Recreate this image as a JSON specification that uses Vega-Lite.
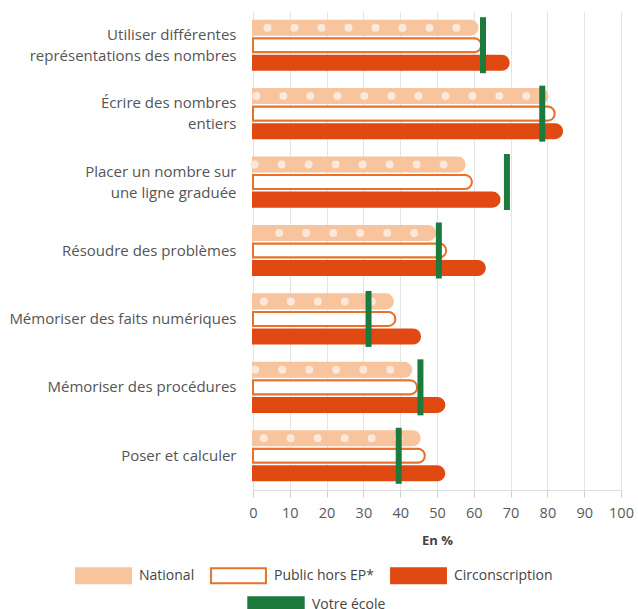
{
  "$schema": "https://vega.github.io/schema/vega-lite/v6.json",
  "width": 368,
  "height": 479,
  "padding": {"left": 8, "top": 11, "right": 12, "bottom": 0},
  "background": "white",
  "datasets": {
    "bars": [
      {"cat": "Utiliser différentes\nreprésentations des nombres", "serie": "National", "v": 61},
      {"cat": "Utiliser différentes\nreprésentations des nombres", "serie": "Public hors EP*", "v": 62},
      {"cat": "Utiliser différentes\nreprésentations des nombres", "serie": "Circonscription", "v": 69.5},
      {"cat": "Écrire des nombres\nentiers", "serie": "National", "v": 80},
      {"cat": "Écrire des nombres\nentiers", "serie": "Public hors EP*", "v": 82},
      {"cat": "Écrire des nombres\nentiers", "serie": "Circonscription", "v": 84},
      {"cat": "Placer un nombre sur\nune ligne graduée", "serie": "National", "v": 57.5},
      {"cat": "Placer un nombre sur\nune ligne graduée", "serie": "Public hors EP*", "v": 59.5},
      {"cat": "Placer un nombre sur\nune ligne graduée", "serie": "Circonscription", "v": 67},
      {"cat": "Résoudre des problèmes", "serie": "National", "v": 49.5},
      {"cat": "Résoudre des problèmes", "serie": "Public hors EP*", "v": 52.5},
      {"cat": "Résoudre des problèmes", "serie": "Circonscription", "v": 63},
      {"cat": "Mémoriser des faits numériques", "serie": "National", "v": 38},
      {"cat": "Mémoriser des faits numériques", "serie": "Public hors EP*", "v": 38.7},
      {"cat": "Mémoriser des faits numériques", "serie": "Circonscription", "v": 45.4},
      {"cat": "Mémoriser des procédures", "serie": "National", "v": 43},
      {"cat": "Mémoriser des procédures", "serie": "Public hors EP*", "v": 44.6},
      {"cat": "Mémoriser des procédures", "serie": "Circonscription", "v": 52},
      {"cat": "Poser et calculer", "serie": "National", "v": 45.3},
      {"cat": "Poser et calculer", "serie": "Public hors EP*", "v": 46.7},
      {"cat": "Poser et calculer", "serie": "Circonscription", "v": 52}
    ],
    "ecole": [
      {"cat": "Utiliser différentes\nreprésentations des nombres", "serie": "Votre école", "v": 62.5},
      {"cat": "Écrire des nombres\nentiers", "serie": "Votre école", "v": 78.6},
      {"cat": "Placer un nombre sur\nune ligne graduée", "serie": "Votre école", "v": 69},
      {"cat": "Résoudre des problèmes", "serie": "Votre école", "v": 50.5},
      {"cat": "Mémoriser des faits numériques", "serie": "Votre école", "v": 31.4},
      {"cat": "Mémoriser des procédures", "serie": "Votre école", "v": 45.5},
      {"cat": "Poser et calculer", "serie": "Votre école", "v": 39.6}
    ]
  },
  "layer": [
    {
      "data": {"name": "bars"},
      "mark": {"type": "bar", "cornerRadiusEnd": 7, "strokeWidth": 2},
      "encoding": {
        "y": {"field": "cat", "type": "nominal", "sort": null, "scale": {"paddingInner": 0, "paddingOuter": 0},
          "axis": {"title": null, "ticks": false, "domain": false, "grid": false, "labelPadding": 17, "labelFontSize": 15, "labelColor": "#555555", "labelFont": "Open Sans", "labelLineHeight": 21, "labelExpr": "split(datum.label, '\\n')", "labelLimit": 300,
            "labelOffset": {"condition": {"test": "indexof(datum.value, '\\n') >= 0", "value": -10.5}, "value": 0}}},
        "x": {"field": "v", "type": "quantitative", "scale": {"domain": [0, 100]},
          "axis": {"values": [0,10,20,30,40,50,60,70,80,90,100], "labelOverlap": false, "labelFlush": false, "title": "En %", "titleFont": "Open Sans", "titleFontSize": 13, "titleFontWeight": "bold", "titleColor": "#444444", "titlePadding": 15, "labelFont": "Open Sans", "labelFontSize": 14.5, "labelColor": "#5a5a5a", "labelPadding": 9, "tickSize": 7, "tickColor": "#d0d0d0", "domainColor": "#dddddd", "gridColor": "#e4e4e4"}},
        "yOffset": {"field": "serie", "type": "nominal", "scale": {"domain": ["National", "Public hors EP*", "Circonscription"], "paddingInner": 0.2, "paddingOuter": 0.55}},
        "fill": {"field": "serie", "type": "nominal", "scale": {"domain": ["National", "Public hors EP*", "Circonscription"], "range": ["#f7c49d", "#ffffff", "#e04a12"]},
          "legend": {"title": null, "orient": "none", "legendX": -165.5, "legendY": 548.5, "direction": "horizontal", "symbolType": "M-1.83,-0.5H1.83V0.5H-1.83Z", "symbolSize": 900, "symbolStrokeWidth": 2, "labelFont": "Open Sans", "labelFontSize": 14, "labelColor": "#444444", "labelOffset": 19.5, "columnPadding": 12}},
        "stroke": {"field": "serie", "type": "nominal", "scale": {"domain": ["National", "Public hors EP*", "Circonscription"], "range": ["#f7c49d", "#e8722a", "#e04a12"]},
          "legend": {"title": null, "orient": "none", "legendX": -165.5, "legendY": 548.5, "direction": "horizontal", "symbolType": "M-1.83,-0.5H1.83V0.5H-1.83Z", "symbolSize": 900, "symbolStrokeWidth": 2, "labelFont": "Open Sans", "labelFontSize": 14, "labelColor": "#444444", "labelOffset": 19.5, "columnPadding": 12}}
      }
    },
    {
      "data": {"name": "bars"},
      "transform": [{"filter": "datum.serie === 'National'"}],
      "mark": {"type": "rule", "color": "#fbe8da", "strokeWidth": 8, "strokeCap": "round", "strokeDash": [0, 27], "strokeDashOffset": 6},
      "encoding": {
        "y": {"field": "cat", "type": "nominal", "sort": null},
        "yOffset": {"field": "serie", "type": "nominal"},
        "x": {"field": "v", "type": "quantitative", "axis": {"values": [0,10,20,30,40,50,60,70,80,90,100], "labelOverlap": false, "labelFlush": false, "title": "En %"}},
        "x2": {"datum": 0}
      }
    },
    {
      "data": {"name": "ecole"},
      "mark": {"type": "tick", "size": 56, "thickness": 6, "opacity": 1},
      "encoding": {
        "y": {"field": "cat", "type": "nominal", "sort": null},
        "x": {"field": "v", "type": "quantitative", "axis": {"values": [0,10,20,30,40,50,60,70,80,90,100], "labelOverlap": false, "labelFlush": false, "title": "En %"}},
        "color": {"field": "serie", "type": "nominal", "scale": {"range": ["#1c7a3d"]},
          "legend": {"title": null, "orient": "none", "legendX": 6.5, "legendY": 577.5, "direction": "horizontal", "symbolType": "M-1.83,-0.5H1.83V0.5H-1.83Z", "symbolSize": 900, "symbolStrokeColor": "#1c7a3d", "symbolStrokeWidth": 2.5, "labelFont": "Open Sans", "labelFontSize": 14, "labelColor": "#444444", "labelOffset": 19.5,
            "encode": {"symbols": {"update": {"fillOpacity": {"value": 0.13}, "stroke": {"value": "#1c7a3d"}, "strokeWidth": {"value": 2.5}, "strokeOpacity": {"value": 1}}}}}}
      }
    }
  ],
  "config": {
    "view": {"stroke": null},
    "font": "Open Sans"
  }
}
